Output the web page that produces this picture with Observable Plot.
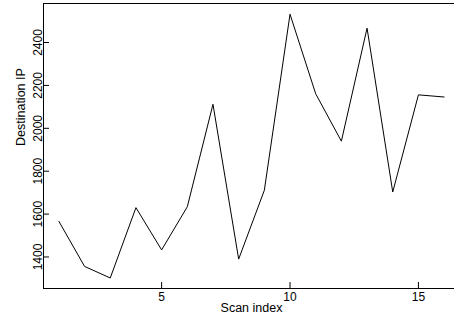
<!DOCTYPE html>
<html>
<head>
<meta charset="utf-8">
<script src="https://cdn.jsdelivr.net/npm/d3@7"></script>
<script src="https://cdn.jsdelivr.net/npm/@observablehq/plot@0.6"></script>
<style>
  html, body { margin: 0; padding: 0; background: #fff; overflow: hidden; }
  #chart svg { overflow: hidden; }
</style>
</head>
<body>
<div id="chart"></div>
<script>
const scanIndex = [1, 2, 3, 4, 5, 6, 7, 8, 9, 10, 11, 12, 13, 14, 15, 16];
const destinationIP = [1566, 1356, 1302, 1630, 1433, 1634, 2112, 1390, 1711, 2532, 2161, 1940, 2467, 1703, 2156, 2146];
const xTicks = [5, 10, 15];
const yTicks = [1400, 1600, 1800, 2000, 2200, 2400];
const xLabel = "Scan index";
const yLabel = "Destination IP";

const data = scanIndex.map((s, i) => ({scan: s, ip: destinationIP[i]}));
const fmt = d => String(d);

const chart = Plot.plot({
  width: 454,
  height: 323,
  marginLeft: 43,
  marginRight: -5,
  marginTop: 3,
  marginBottom: 35,
  x: {domain: [0.4, 16.6]},
  y: {domain: [1253, 2582]},
  style: {fontFamily: "'Liberation Sans', Arial, sans-serif", fontSize: "12px", color: "#000", background: "#fff"},
  marks: [
    Plot.frame({stroke: "#000", strokeWidth: 1}),
    Plot.axisX(xTicks, {tickSize: 0, tickPadding: 4, tickFormat: fmt, label: null, fill: "#000"}),
    Plot.axisY(yTicks, {tickSize: 0, tickPadding: 2, tickRotate: -90, tickFormat: fmt, label: null, fill: "#000"}),
    Plot.tickX(xTicks, {x: d => d, insetTop: 279, stroke: "#000", strokeWidth: 1}),
    Plot.tickY(yTicks, {y: d => d, insetRight: 410, stroke: "#000", strokeWidth: 1}),
    Plot.line(data, {x: "scan", y: "ip", stroke: "#000", strokeWidth: 1}),
    Plot.text([xLabel], {frameAnchor: "bottom", dy: 23, fill: "#000", fontSize: 12.5}),
    Plot.text([yLabel], {frameAnchor: "left", dx: -23, rotate: -90, fill: "#000", fontSize: 12.5})
  ]
});
document.getElementById("chart").appendChild(chart);
</script>
</body>
</html>
